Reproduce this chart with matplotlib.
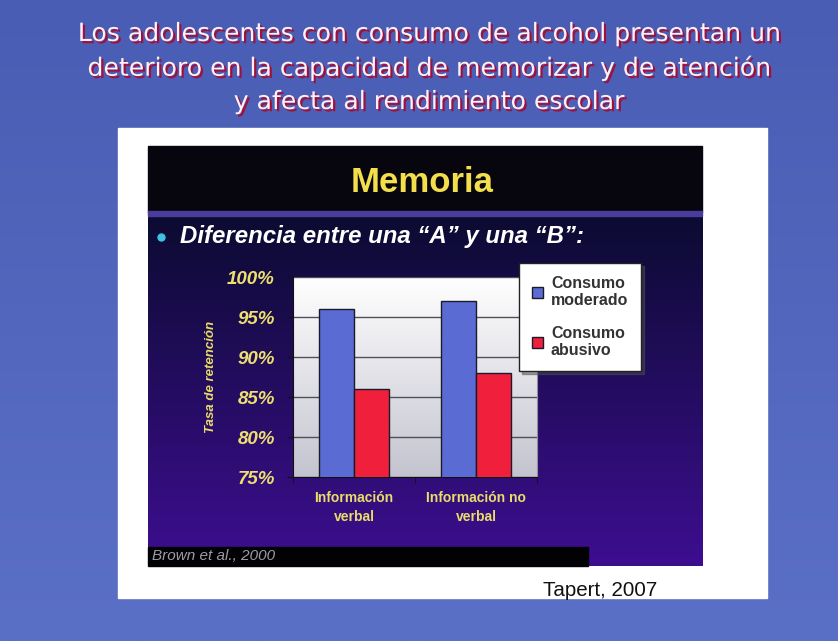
import matplotlib
matplotlib.use("Agg")
import matplotlib.pyplot as plt
import matplotlib.patheffects as pe
from matplotlib.patches import Rectangle
import numpy as np

# datos
titulo = ["Los adolescentes con consumo de alcohol presentan un",
          "deterioro en la capacidad de memorizar y de atención",
          "y afecta al rendimiento escolar"]
categorias = ["Información\nverbal", "Información no\nverbal"]
moderado = [96, 97]
abusivo = [86, 88]
yticks = [75, 80, 85, 90, 95, 100]
ytick_labels = ["75%", "80%", "85%", "90%", "95%", "100%"]
series = ["Consumo\nmoderado", "Consumo\nabusivo"]

W, H = 838, 641
fig = plt.figure(figsize=(W / 100, H / 100), dpi=100)

# fondo en coordenadas de pixel
bg = fig.add_axes([0, 0, 1, 1])
bg.set_xlim(0, W)
bg.set_ylim(H, 0)
bg.axis("off")

def gradiente(ax, x0, x1, y0, y1, c_top, c_bot, z=0):
  t = np.linspace(0, 1, 256)[:, None]
  a = np.array(matplotlib.colors.to_rgb(c_top))
  b = np.array(matplotlib.colors.to_rgb(c_bot))
  img = (a + (b - a) * t[..., None]) * np.ones((1, 2, 1))
  ax.imshow(img, extent=(x0, x1, y1, y0), aspect="auto", zorder=z, interpolation="bilinear")

gradiente(bg, 0, W, 0, H, "#4a5db4", "#5a70c6")
bg.add_patch(Rectangle((118, 128), 767 - 118, 598 - 128, color="white", zorder=1))
# diapositiva oscura
bg.add_patch(Rectangle((148, 146), 702 - 148, 212 - 146, color="#07060f", zorder=2))
gradiente(bg, 148, 702, 216, 566, "#0c0b32", "#3d0e90", z=2)
bg.add_patch(Rectangle((148, 211), 702 - 148, 5, color="#4a3c9c", zorder=3))
bg.add_patch(Rectangle((148, 547), 588 - 148, 19, color="#020204", zorder=3))
# fondo del area de trazado
gradiente(bg, 293, 537, 277, 477, "#ffffff", "#c4c4d0", z=3)
bg.set_xlim(0, W)
bg.set_ylim(H, 0)

# titulo
for i, linea in enumerate(titulo):
  bg.text(429, 34 + 34 * i, linea, ha="center", va="center", fontsize=18.1,
          family="DejaVu Sans", color="#fff0f6", zorder=5,
          path_effects=[pe.withSimplePatchShadow(offset=(1.6, -1.6), shadow_rgbFace="#a0103a", alpha=1)])

bg.text(422, 183, "Memoria", ha="center", va="center", fontsize=25, fontweight="bold",
        family="Liberation Sans", color="#f3df4c", zorder=5)
bg.plot([161], [237], "o", color="#3fc2e4", markersize=5, zorder=5)
bg.text(180, 237, "Diferencia entre una “A” y una “B”:", ha="left", va="center", fontsize=17.3,
        fontweight="bold", fontstyle="italic", family="Liberation Sans", color="white", zorder=5)
bg.text(152, 556, "Brown et al., 2000", ha="left", va="center", fontsize=11,
        fontstyle="italic", family="Liberation Sans", color="#9c9ca6", zorder=5)
bg.text(543, 591, "Tapert, 2007", ha="left", va="center", fontsize=14.8,
        family="Liberation Sans", color="#111111", zorder=5)

# grafico de barras
ax = fig.add_axes([293 / W, 1 - 477 / H, 244 / W, 200 / H])
ax.set_facecolor("none")
x = np.arange(len(categorias))
w = 0.287
ax.bar(x - w / 2, moderado, w, color="#5a6cd4", edgecolor="#1a1a2a", linewidth=1, label=series[0], zorder=3)
ax.bar(x + w / 2, abusivo, w, color="#f0203c", edgecolor="#1a1a2a", linewidth=1, label=series[1], zorder=3)
ax.set_xlim(-0.5, 1.5)
ax.set_ylim(75, 100)
ax.set_yticks(yticks)
ax.set_yticklabels(ytick_labels)
ax.yaxis.grid(True, color="#505058", linewidth=1)
ax.set_axisbelow(True)
ax.set_xticks(x)
ax.set_xticklabels(categorias)
ax.set_xticks([-0.5, 0.5, 1.5], minor=True)
ax.tick_params(axis="x", which="major", length=0, pad=10, colors="#e8dc6a")
ax.tick_params(axis="x", which="minor", length=4, color="#111111", direction="out")
ax.tick_params(axis="y", length=4, color="#111111", pad=9)
for lab in ax.get_xticklabels():
  lab.set_fontweight("bold")
  lab.set_fontsize(10)
  lab.set_family("Liberation Sans")
  lab.set_linespacing(1.45)
for lab in ax.get_yticklabels():
  lab.set_fontweight("bold")
  lab.set_fontstyle("italic")
  lab.set_fontsize(13.5)
  lab.set_family("Liberation Sans")
  lab.set_color("#eee070")
ax.spines["top"].set_visible(False)
ax.spines["right"].set_color("#9090a0")
ax.spines["left"].set_color("#111111")
ax.spines["bottom"].set_color("#111111")
ax.set_ylabel("Tasa de retención", fontsize=9.5, fontweight="bold", fontstyle="italic",
              family="Liberation Sans", color="#e8dc6a")
ax.yaxis.set_label_coords((217 - 293) / 244, 0.5)

leg = ax.legend(loc="upper left", bbox_to_anchor=(519 / W, 1 - 263 / H), bbox_transform=fig.transFigure,
                borderaxespad=0, frameon=True, fancybox=False, shadow=True, handlelength=0.7,
                handleheight=0.7, handletextpad=0.5, labelspacing=1.1, borderpad=0.8,
                prop={"family": "Liberation Sans", "weight": "bold", "size": 11.5})
leg.get_frame().set_edgecolor("#222222")
leg.get_frame().set_linewidth(1)
for t in leg.get_texts():
  t.set_color("#333333")

fig.savefig("out.png", dpi=100)
